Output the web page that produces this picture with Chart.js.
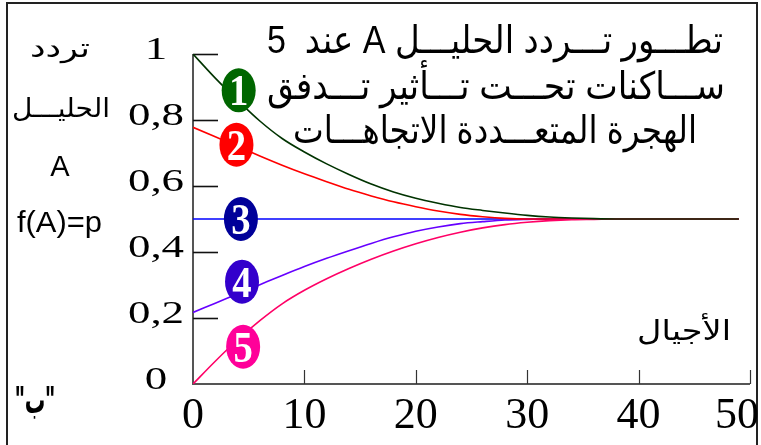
<!DOCTYPE html>
<html>
<head>
<meta charset="utf-8">
<script src="https://cdn.jsdelivr.net/npm/chart.js@4.4.1/dist/chart.umd.min.js"></script>
<style>
  html, body { margin: 0; padding: 0; background: #fff; }
  #wrap { position: relative; width: 761px; height: 445px; }
</style>
</head>
<body>
<div id="wrap"><canvas id="driftChart" width="761" height="445"></canvas></div>
<script>
// الأجيال (x)
const generations = [0, 2, 4, 6, 8, 10, 12, 14, 16, 18, 20, 22, 24, 26, 28, 30, 32, 34, 36, 38, 40, 42, 44, 46, 48, 49]

// تردد الحليل A في كل ساكنة
const pop1 = [1.0, 0.927, 0.86, 0.797, 0.744, 0.703, 0.667, 0.635, 0.606, 0.582, 0.563, 0.548, 0.535, 0.526, 0.518, 0.511, 0.506, 0.503, 0.501, 0.5, 0.5, 0.5, 0.5, 0.5, 0.5, 0.5]
const pop2 = [0.778, 0.749, 0.72, 0.691, 0.663, 0.637, 0.613, 0.59, 0.57, 0.552, 0.537, 0.524, 0.514, 0.507, 0.502, 0.5, 0.5, 0.5, 0.5, 0.5, 0.5, 0.5, 0.5, 0.5, 0.5, 0.5]
const pop3 = [0.5, 0.5, 0.5, 0.5, 0.5, 0.5, 0.5, 0.5, 0.5, 0.5, 0.5, 0.5, 0.5, 0.5, 0.5, 0.5, 0.5, 0.5, 0.5, 0.5, 0.5, 0.5, 0.5, 0.5, 0.5, 0.5]
const pop4 = [0.217, 0.245, 0.273, 0.301, 0.329, 0.356, 0.381, 0.404, 0.426, 0.446, 0.463, 0.476, 0.486, 0.492, 0.497, 0.499, 0.5, 0.5, 0.5, 0.5, 0.5, 0.5, 0.5, 0.5, 0.5, 0.5]
const pop5 = [0.0, 0.069, 0.134, 0.192, 0.243, 0.284, 0.319, 0.35, 0.378, 0.403, 0.425, 0.444, 0.46, 0.473, 0.483, 0.49, 0.495, 0.498, 0.499, 0.5, 0.5, 0.5, 0.5, 0.5, 0.5, 0.5]

// ارقام الساكنات على المنحنيات
const badgeLabels = ["1", "2", "3", "4", "5"]
const badgeX = [4.1, 3.9, 4.3, 4.4, 4.5]
const badgeY = [0.89, 0.725, 0.5, 0.31, 0.113]

// التدريجات
const xTicks = [0, 10, 20, 30, 40, 50]
const xTickLabels = ["0", "10", "20", "30", "40", "50"]
const yTicks = [0, 0.2, 0.4, 0.6, 0.8, 1]
const yTickLabels = ["0", "0,2", "0,4", "0,6", "0,8", "1"]

const titleLines = [
  "تطـــور تـــردد الحليـــل A عند  5",
  "ســـاكنات تحـــت تـــأثير تـــدفق",
  "الهجرة المتعـــددة الاتجاهـــات",
]
const axisTitleX = "الأجيال"
const axisTitleY = ["تردد", "الحليـــل", "A", "f(A)=p"]
const figureTag = "\"ب\""

const badgeFill = ["#006600", "#ff0000", "#000099", "#3300cc", "#ff0099"]

const toPoints = vals => vals.map((v, i) => ({ x: generations[i], y: v }))

// نص ممدود افقيا: اما بعرض محدد او بمعامل sx
function stretchText(ctx, text, cx, baseY, width, font, rtl, sx) {
  ctx.save()
  ctx.font = font
  ctx.direction = rtl ? "rtl" : "ltr"
  ctx.textAlign = "center"
  ctx.textBaseline = "alphabetic"
  const w = ctx.measureText(text).width
  ctx.translate(cx, baseY)
  if (width) ctx.scale(width / w, 1)
  else if (sx) ctx.scale(sx, 1)
  ctx.fillText(text, 0, 0)
  ctx.restore()
}

const ARABIC = "\"Liberation Sans\", \"DejaVu Sans\", sans-serif"
const SERIF = "\"Liberation Serif\", \"DejaVu Serif\", serif"

const framePlugin = {
  id: "frame",
  beforeDatasetsDraw(chart) {
    const { ctx, scales: { x, y } } = chart
    ctx.save()
    // الاطار
    ctx.strokeStyle = "#222"
    ctx.lineWidth = 2
    ctx.strokeRect(7, 3, 750, 460)

    // المحاور
    ctx.strokeStyle = "#555"
    ctx.lineWidth = 2
    ctx.beginPath()
    ctx.moveTo(x.getPixelForValue(0), y.getPixelForValue(1))
    ctx.lineTo(x.getPixelForValue(0), y.getPixelForValue(0))
    ctx.lineTo(x.getPixelForValue(50), y.getPixelForValue(0))
    ctx.stroke()

    // تدريجات y للداخل
    ctx.strokeStyle = "#111"
    ctx.lineWidth = 1.6
    yTicks.forEach(v => {
      if (v === 0) return
      const py = Math.round(y.getPixelForValue(v)) + 0.5
      ctx.beginPath()
      ctx.moveTo(x.left, py)
      ctx.lineTo(x.left + 25, py)
      ctx.stroke()
    })
    // تدريجات x للاعلى
    ctx.lineWidth = 1.2
    ctx.strokeStyle = "#333"
    xTicks.forEach(v => {
      if (v === 0) return
      const px = Math.round(x.getPixelForValue(v)) + 0.5
      ctx.beginPath()
      ctx.moveTo(px, y.bottom)
      ctx.lineTo(px, y.bottom - 14)
      ctx.stroke()
    })

    ctx.fillStyle = "#000"
    // ارقام y
    yTicks.forEach((v, i) => {
      stretchText(ctx, yTickLabels[i], 156, y.getPixelForValue(v) + 4.5, null, "31px " + SERIF, false, 1.45)
    })
    // ارقام x
    xTicks.forEach((v, i) => {
      ctx.font = "44px " + SERIF
      const w = ctx.measureText(xTickLabels[i]).width
      const cx = Math.min(x.getPixelForValue(v), 759 - w / 2)
      stretchText(ctx, xTickLabels[i], cx, 428, null, "44px " + SERIF)
    })

    // العناوين
    stretchText(ctx, titleLines[0], 495, 53, 456, "38px " + ARABIC, true)
    stretchText(ctx, titleLines[1], 496, 99, 458, "38px " + ARABIC, true)
    stretchText(ctx, titleLines[2], 495, 143, 404, "38px " + ARABIC, true)

    stretchText(ctx, axisTitleY[0], 60, 57, 60, "26px " + ARABIC, true)
    stretchText(ctx, axisTitleY[1], 61, 117, 98, "26px " + ARABIC, true)
    stretchText(ctx, axisTitleY[2], 60, 176, null, "29px " + ARABIC)
    stretchText(ctx, axisTitleY[3], 59.5, 232, 85, "30px " + ARABIC)
    stretchText(ctx, axisTitleX, 684, 340, 94, "28px " + ARABIC, true)
    stretchText(ctx, figureTag, 35, 413, 40, "bold 38px " + ARABIC, true)
    ctx.restore()
  },
  afterDatasetsDraw(chart) {
    const { ctx, scales: { x, y } } = chart
    ctx.save()
    badgeLabels.forEach((lab, i) => {
      const cx = x.getPixelForValue(badgeX[i])
      const cy = y.getPixelForValue(badgeY[i])
      ctx.fillStyle = badgeFill[i]
      ctx.beginPath()
      ctx.ellipse(cx, cy, 17, 22, 0, 0, Math.PI * 2)
      ctx.fill()
      ctx.fillStyle = "#fff"
      stretchText(ctx, lab, cx, cy + 15, null, "bold 44px " + SERIF, false, 0.88)
    })
    ctx.restore()
  },
}

const ctx = document.getElementById("driftChart").getContext("2d")
new Chart(ctx, {
  type: "line",
  data: {
    datasets: [
      { label: "1", data: toPoints(pop1), borderColor: "#003300" },
      { label: "5", data: toPoints(pop5), borderColor: "#ff0066" },
      { label: "2", data: toPoints(pop2), borderColor: "#ff0000" },
      { label: "4", data: toPoints(pop4), borderColor: "#6600ff" },
      { label: "3", data: toPoints(pop3), borderColor: "#0000ff" },
    ],
  },
  options: {
    responsive: false,
    animation: false,
    layout: { padding: { left: 193, right: 11, top: 54, bottom: 61 } },
    elements: {
      line: { borderWidth: 1.6, cubicInterpolationMode: "monotone", fill: false },
      point: { radius: 0 },
    },
    plugins: {
      legend: { display: false },
      tooltip: { enabled: false },
    },
    scales: {
      x: { type: "linear", min: 0, max: 50, display: false },
      y: { min: 0, max: 1, display: false },
    },
  },
  plugins: [framePlugin],
})
</script>
</body>
</html>
